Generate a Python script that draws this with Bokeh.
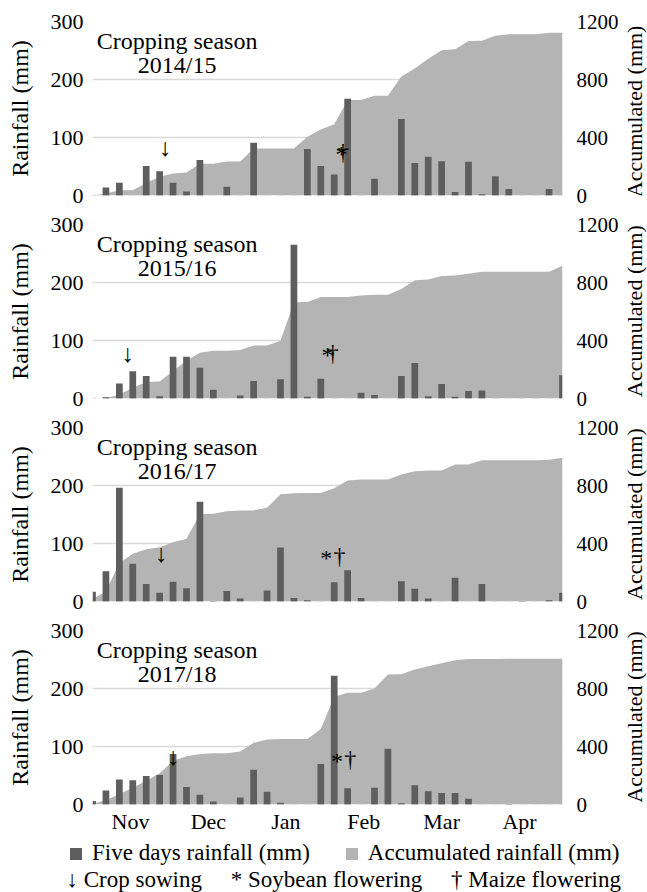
import math
from bokeh.plotting import figure
from bokeh.models import (Range1d, LinearAxis, FixedTicker, Legend, LegendItem, Label)
from bokeh.layouts import column, row
from bokeh.embed import file_html
from bokeh.resources import INLINE
from bokeh.core.properties import value

# ---------------- data ----------------
seasons = ["2014/15", "2015/16", "2016/17", "2017/18"]
months = ["Nov", "Dec", "Jan", "Feb", "Mar", "Apr"]
month_pos = [2.83, 8.63, 14.4, 20.2, 26.0, 31.8]   # centre of each month on the 5-day index

# five-day rainfall (mm), 36 periods from 1 Nov to 30 Apr
rain_1415 = [0, 14, 22, 0, 51, 42, 22, 7, 61, 0, 15, 0, 91, 0, 0, 0, 80, 51,
             36, 167, 0, 29, 0, 132, 56, 67, 59, 6, 58, 2, 33, 11, 0, 0, 11, 0]
rain_1516 = [0, 2, 26, 47, 39, 4, 72, 72, 53, 15, 0, 5, 30, 0, 33, 265, 3, 34,
             0, 0, 10, 6, 0, 39, 61, 4, 25, 3, 13, 14, 0, 0, 0, 0, 0, 40]
rain_1617 = [17, 52, 196, 65, 30, 15, 34, 23, 172, 1, 18, 5, 0, 19, 93, 6, 2, 0,
             33, 54, 6, 0, 0, 35, 22, 5, 0, 41, 0, 30, 0, 0, 1, 0, 2, 15]
rain_1718 = [6, 24, 43, 42, 49, 51, 87, 30, 17, 5, 0, 12, 60, 22, 3, 0, 0, 70,
             222, 28, 0, 29, 96, 2, 33, 23, 20, 20, 10, 0, 0, 1, 0, 0, 0, 0]

# accumulated rainfall (mm), read from the grey area
acc_1415 = [0, 14, 36, 36, 87, 129, 151, 158, 219, 219, 234, 234, 325, 325, 325, 325,
            405, 456, 492, 659, 659, 688, 688, 820, 876, 943, 1002, 1008, 1066, 1068,
            1101, 1112, 1112, 1112, 1123, 1123]
acc_1516 = [0, 2, 28, 75, 114, 118, 190, 262, 315, 330, 330, 335, 365, 365, 398, 663,
            666, 700, 700, 700, 710, 716, 716, 755, 816, 820, 845, 848, 861, 875,
            875, 875, 875, 875, 875, 915]
acc_1617 = [17, 69, 265, 330, 360, 375, 409, 432, 604, 605, 623, 628, 628, 647, 740,
            746, 748, 748, 781, 835, 841, 841, 841, 876, 898, 903, 903, 944, 944, 974,
            974, 974, 975, 975, 977, 992]
acc_1718 = [6, 30, 73, 115, 164, 215, 302, 332, 349, 354, 354, 366, 426, 448, 451, 451,
            451, 521, 743, 771, 771, 800, 896, 898, 931, 954, 974, 994, 1004, 1004,
            1004, 1005, 1005, 1005, 1005, 1005]

# events (position on the 5-day index, height on the rainfall scale)
sowing_x = [5.4, 2.6, 5.1, 6.0]
sowing_y = [82, 78, 83, 82]
soy_x = [18.55, 17.5, 17.4, 18.2]
maize_x = [18.65, 17.9, 18.4, 19.2]
flower_y = [75, 78, 78, 78]

rains = [rain_1415, rain_1516, rain_1617, rain_1718]
accs = [acc_1415, acc_1516, acc_1617, acc_1718]

# ---------------- style ----------------
FONT = "Liberation Serif"
BAR = "#5e5e5e"
AREA = "#b4b4b4"
GRID = "#d9d9d9"
TXT = "#000000"
FRAME_W = 470
FRAME_H = 174
LEFT_B, RIGHT_B = 92, 56
SIDE_W = 26


def make_panel(k):
    first, last = k == 0, k == 3
    rain, acc = rains[k], accs[k]
    n = len(rain)
    x = list(range(n))
    top_b = 21 if first else 13
    bot_b = 30 if last else 16
    p = figure(frame_width=FRAME_W, frame_height=FRAME_H, output_backend="svg",
               toolbar_location=None, x_range=Range1d(0, n - 1),
               y_range=Range1d(0, 300), min_border_left=LEFT_B, min_border_right=RIGHT_B,
               min_border_top=top_b, min_border_bottom=bot_b,
               background_fill_color="white", border_fill_color="white")
    p.title.visible = False
    p.outline_line_color = None
    p.extra_y_ranges = {"acc": Range1d(0, 1200)}

    p.varea(x=x, y1=0, y2=acc, y_range_name="acc", fill_color=AREA)
    p.segment(x0=[i - 0.25 for i in x], x1=[i + 0.25 for i in x], y0=0, y1=0,
              line_color="#cdcdcd", line_width=1.5)
    p.vbar(x=x, top=rain, width=0.5, fill_color=BAR, line_color=None)

    ya = p.yaxis[0]
    ya.ticker = FixedTicker(ticks=[0, 100, 200, 300])
    ya.axis_label = "Rainfall (mm)"
    ra = LinearAxis(y_range_name="acc", ticker=FixedTicker(ticks=[0, 400, 800, 1200]))
    p.add_layout(ra, "right")
    for ax in (ya, ra):
        ax.axis_line_color = None
        ax.major_tick_line_color = None
        ax.minor_tick_line_color = None
        ax.major_tick_out = 0
        ax.major_tick_in = 0
        ax.major_label_text_font = FONT
        ax.major_label_text_color = TXT
    ya.axis_label_text_font = FONT
    ya.axis_label_text_font_style = "normal"
    ya.axis_label_text_color = TXT
    ya.major_label_text_font_size = "22px"
    ya.axis_label_text_font_size = "24px"
    ya.major_label_standoff = 9
    ya.axis_label_standoff = 15
    ra.major_label_text_font_size = "21px"
    ra.major_label_standoff = 14

    p.ygrid.ticker = FixedTicker(ticks=[0, 100, 200, 300])
    p.ygrid.grid_line_color = GRID
    p.ygrid.grid_line_width = 1.5
    p.xgrid.visible = False

    xa = p.xaxis[0]
    if last:
        xa.ticker = FixedTicker(ticks=month_pos)
        xa.major_label_overrides = {t: m for t, m in zip(month_pos, months)}
        xa.axis_line_color = None
        xa.major_tick_line_color = None
        xa.minor_tick_line_color = None
        xa.major_tick_out = 0
        xa.major_tick_in = 0
        xa.major_label_standoff = 4
        xa.major_label_text_font = FONT
        xa.major_label_text_font_size = "22px"
        xa.major_label_text_color = TXT
    else:
        xa.visible = False

    p.add_layout(Label(x=6.3, y=266, text="Cropping season", text_align="center",
                       text_baseline="alphabetic", text_font=FONT, text_font_size="24px",
                       text_color=TXT))
    p.add_layout(Label(x=6.3, y=225, text=seasons[k], text_align="center",
                       text_baseline="alphabetic", text_font=FONT, text_font_size="24px",
                       text_color=TXT))

    p.text(x=[sowing_x[k]], y=[sowing_y[k]], text=["↓"], text_align="center",
           text_baseline="middle", text_font=value(FONT), text_font_size="25px",
           text_color=TXT)
    p.text(x=[soy_x[k]], y=[flower_y[k] - 3], text=["*"], text_align="center",
           text_baseline="middle", text_font=value(FONT), text_font_size="24px",
           text_color=TXT)
    p.text(x=[maize_x[k]], y=[flower_y[k]], text=["†"], text_align="center",
           text_baseline="middle", text_font=value(FONT), text_font_size="24px",
           text_color=TXT)

    # right-hand title, reading bottom-to-top, in a narrow strip beside the panel
    h = top_b + FRAME_H + bot_b
    s = figure(width=SIDE_W, height=h, output_backend="svg", toolbar_location=None,
               x_range=Range1d(0, SIDE_W), y_range=Range1d(0, h),
               x_axis_type=None, y_axis_type=None, min_border=0,
               background_fill_color="white", border_fill_color="white")
    s.title.visible = False
    s.outline_line_color = None
    shift = 9 if last else 1
    s.add_layout(Label(x=SIDE_W / 2, y=h - (top_b + FRAME_H / 2 + shift), text="Accumulated (mm)",
                       angle=math.pi / 2, text_align="center", text_baseline="middle",
                       text_font=FONT, text_font_size="22px", text_color=TXT))
    return row(p, s, spacing=0)


panels = [make_panel(k) for k in range(4)]

# legend strip
LW = LEFT_B + FRAME_W + RIGHT_B + SIDE_W
LH = 56
lg = figure(width=LW, height=LH, output_backend="svg", toolbar_location=None,
            x_range=Range1d(0, LW), y_range=Range1d(0, LH),
            x_axis_type=None, y_axis_type=None, min_border=0,
            background_fill_color="white", border_fill_color="white")
lg.title.visible = False
lg.outline_line_color = None
# legend keys: the same series, kept out of view (only their swatches are shown)
lg.extra_y_ranges = {"keys": Range1d(-300, -200)}
kx = list(range(len(rain_1718)))
r_bar = lg.vbar(x=kx, top=rain_1718, width=0.5, fill_color=BAR, line_color=None,
                y_range_name="keys", visible=False)
r_area = lg.varea(x=kx, y1=0, y2=acc_1718, fill_color=AREA, y_range_name="keys",
                  visible=False)
leg = Legend(items=[LegendItem(label="Five days rainfall (mm)", renderers=[r_bar]),
                    LegendItem(label="Accumulated rainfall (mm)", renderers=[r_area])],
             orientation="horizontal", location=(68, LH - 17 - 13),
             label_text_font=FONT, label_text_font_size="23px",
             label_text_color=TXT, glyph_width=15, glyph_height=15,
             label_standoff=9, spacing=34, padding=0, margin=0,
             border_line_color=None, background_fill_alpha=0, label_height=20)
lg.add_layout(leg, "center")
lg.add_layout(Label(x=66, y=LH - 43, text="↓ Crop sowing\u2003 * Soybean flowering\u2003 † Maize flowering",
                    text_align="left", text_baseline="middle", text_font=FONT,
                    text_font_size="23px", text_color=TXT))

layout = column(*panels, lg, spacing=0)

with open("out.html", "w") as f:
    f.write(file_html(layout, INLINE))
